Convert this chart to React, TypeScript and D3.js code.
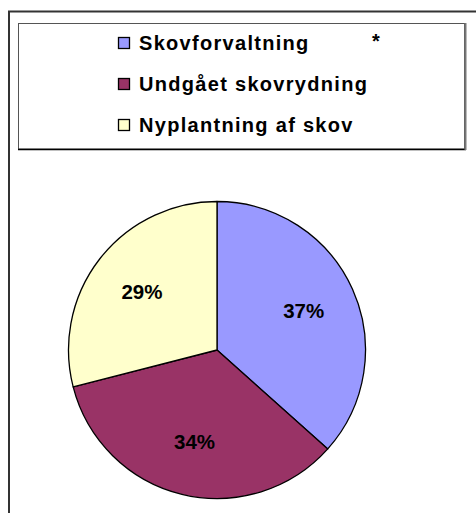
import { useEffect, useRef } from "react";
import * as d3 from "d3";

const categories = ["Skovforvaltning", "Undgået skovrydning", "Nyplantning af skov"];
const shares = [36.6, 34.4, 29.0];
const colors = ["#9999FF", "#993366", "#FFFFCC"];

const W = 476;
const H = 513;
const FONT = "'Liberation Sans', Arial, sans-serif";

export default function App() {
  const svgRef = useRef<SVGSVGElement>(null);

  useEffect(() => {
    if (!svgRef.current) return;
    const svg = d3.select(svgRef.current);
    svg.selectAll("*").remove();

    svg.append("rect").attr("width", W).attr("height", H).attr("fill", "#fff");

    // outer chart frame (cut off on the right / bottom)
    svg
      .append("path")
      .attr("d", `M9,${H} V11.5 H${W}`)
      .attr("fill", "none")
      .attr("stroke", "#333")
      .attr("stroke-width", 2);

    // legend box
    const lg = svg.append("g");
    lg.append("rect")
      .attr("x", 18.5)
      .attr("y", 23.5)
      .attr("width", 446)
      .attr("height", 125.5)
      .attr("fill", "#fff")
      .attr("stroke", "#555")
      .attr("stroke-width", 1);
    lg.append("line")
      .attr("x1", 18)
      .attr("x2", 466)
      .attr("y1", 149.5)
      .attr("y2", 149.5)
      .attr("stroke", "#000")
      .attr("stroke-width", 1.5);
    lg.append("line")
      .attr("x1", 465.5)
      .attr("x2", 465.5)
      .attr("y1", 23)
      .attr("y2", 150)
      .attr("stroke", "#777")
      .attr("stroke-width", 2);

    const ly = d3.scalePoint<string>().domain(categories).range([43, 125]);
    const items = lg
      .selectAll("g.item")
      .data(categories)
      .enter()
      .append("g")
      .attr("class", "item")
      .attr("transform", (d) => `translate(0,${ly(d)})`);
    items
      .append("rect")
      .attr("x", 118.5)
      .attr("y", -5.5)
      .attr("width", 11)
      .attr("height", 11)
      .attr("fill", (_, i) => colors[i])
      .attr("stroke", "#000")
      .attr("stroke-width", 1.3);
    items
      .append("text")
      .attr("x", 139)
      .attr("y", 6.5)
      .attr("font-family", FONT)
      .attr("font-weight", "bold")
      .attr("font-size", 20)
      .attr("letter-spacing", 1.3)
      .attr("fill", "#000")
      .text((d) => d);

    lg.append("text")
      .attr("x", 376)
      .attr("y", 48)
      .attr("text-anchor", "middle")
      .attr("font-family", FONT)
      .attr("font-weight", "bold")
      .attr("font-size", 20)
      .text("*");

    // pie
    const cx = 217;
    const cy = 350;
    const r = 148.5;
    const pie = d3
      .pie<number>()
      .value((d) => d)
      .sort(null);
    const arcs = pie(shares);
    const arc = d3.arc<d3.PieArcDatum<number>>().innerRadius(0).outerRadius(r);
    const labelArc = d3
      .arc<d3.PieArcDatum<number>>()
      .innerRadius(95)
      .outerRadius(95);
    const total = d3.sum(shares);

    const g = svg.append("g").attr("transform", `translate(${cx},${cy})`);
    g.selectAll("path")
      .data(arcs)
      .enter()
      .append("path")
      .attr("d", arc)
      .attr("fill", (_, i) => colors[i])
      .attr("stroke", "#000")
      .attr("stroke-width", 1.3)
      .attr("stroke-linejoin", "round");

    g.selectAll("text")
      .data(arcs)
      .enter()
      .append("text")
      .attr("transform", (d) => {
        const [x, y] = labelArc.centroid(d);
        return `translate(${x},${y})`;
      })
      .attr("text-anchor", "middle")
      .attr("dy", "0.35em")
      .attr("font-family", FONT)
      .attr("font-weight", "bold")
      .attr("font-size", 20.5)
      .attr("fill", "#000")
      .text((d) => `${Math.round((d.value / total) * 100)}%`);
  }, []);

  return (
    <svg
      ref={svgRef}
      width={W}
      height={H}
      viewBox={`0 0 ${W} ${H}`}
      style={{ position: "absolute", left: 0, top: 0, display: "block" }}
    />
  );
}
